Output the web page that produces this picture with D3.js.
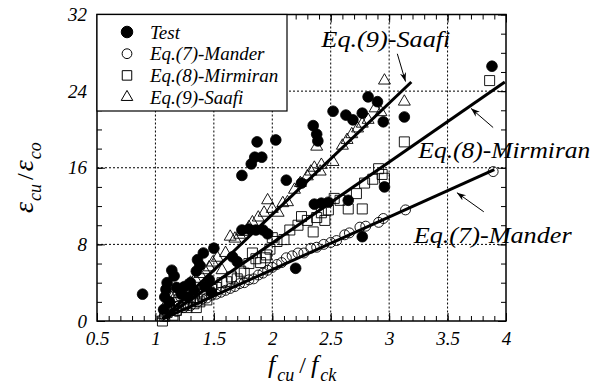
<!DOCTYPE html>
<html>
<head>
<meta charset="utf-8">
<script src="https://cdn.jsdelivr.net/npm/d3@7"></script>
<style>
  body { margin: 0; background: #fff; }
</style>
</head>
<body>
<div id="chart-area"></div>
<script>

// ---- data ----
var xTicks = [0.5, 1, 1.5, 2, 2.5, 3, 3.5, 4]
var yTicks = [0, 8, 16, 24, 32]

var testPts = [
  [0.89, 2.8], [1.07, 1.2], [1.08, 2.5], [1.09, 3.3], [1.10, 4.0], [1.14, 5.3], [1.16, 4.7],
  [1.12, 2.0], [1.18, 3.5], [1.22, 2.8], [1.25, 3.6], [1.28, 2.5], [1.30, 4.0], [1.33, 3.2],
  [1.35, 5.2], [1.36, 6.4], [1.38, 5.8], [1.41, 7.1], [1.42, 3.6], [1.46, 4.3], [1.50, 7.6],
  [1.48, 3.0], [1.66, 6.7], [1.70, 6.2], [1.74, 9.5], [1.80, 9.6], [1.86, 9.5], [1.92, 9.5],
  [1.96, 9.1], [1.74, 15.2], [1.82, 16.4], [1.85, 17.1], [1.91, 17.1], [1.87, 18.7], [2.03, 18.9],
  [2.12, 14.7], [2.20, 5.5], [2.25, 14.4], [2.35, 20.4], [2.38, 19.5], [2.39, 18.8], [2.36, 12.2],
  [2.42, 12.3], [2.48, 12.4], [2.52, 21.9], [2.63, 21.5], [2.65, 12.6], [2.69, 21.0], [2.77, 21.7],
  [2.77, 8.8], [2.82, 23.4], [2.90, 22.9], [2.95, 20.8], [2.96, 14.0], [3.13, 21.3], [3.88, 26.6]
]

var manderPts = [
  [1.08, 0.5], [1.10, 0.9], [1.12, 1.3], [1.15, 1.5], [1.18, 1.0], [1.20, 1.6], [1.24, 1.4],
  [1.27, 1.8], [1.30, 1.6], [1.33, 2.0], [1.36, 2.0], [1.40, 2.3], [1.44, 2.4], [1.48, 2.7],
  [1.52, 2.8], [1.56, 3.0], [1.60, 3.2], [1.64, 3.4], [1.68, 3.6], [1.72, 3.9], [1.76, 4.0],
  [1.80, 4.3], [1.84, 4.4], [1.88, 4.8], [1.92, 5.0], [1.96, 5.3], [2.00, 5.6], [2.04, 5.9],
  [2.08, 6.1], [2.12, 6.6], [2.17, 6.8], [2.22, 7.1], [2.27, 7.1], [2.33, 7.6], [2.38, 7.7],
  [2.44, 8.0], [2.50, 8.2], [2.55, 8.4], [2.62, 9.0], [2.66, 9.2], [2.75, 9.8], [2.80, 9.9],
  [2.91, 10.3], [2.95, 10.7], [3.14, 11.6], [3.89, 15.6]
]

var mirmiranPts = [
  [1.06, 0.0], [1.08, 0.5], [1.10, 0.9], [1.12, 1.4], [1.15, 0.6], [1.18, 1.1], [1.20, 2.2],
  [1.24, 1.6], [1.27, 1.4], [1.30, 2.4], [1.33, 1.8], [1.35, 1.4], [1.38, 2.0], [1.42, 2.8],
  [1.44, 2.2], [1.48, 3.3], [1.52, 3.5], [1.57, 4.0], [1.61, 4.1], [1.65, 4.6], [1.70, 4.4],
  [1.73, 5.2], [1.76, 5.0], [1.80, 6.0], [1.83, 7.1], [1.86, 6.5], [1.90, 6.1], [1.94, 6.6],
  [1.95, 6.9], [1.98, 7.5], [2.00, 8.7], [2.04, 8.3], [2.10, 8.5], [2.15, 9.5], [2.22, 10.0],
  [2.25, 10.9], [2.30, 10.5], [2.35, 9.3], [2.38, 10.8], [2.42, 11.3], [2.45, 10.5], [2.48, 11.6],
  [2.53, 12.8], [2.58, 12.6], [2.65, 11.7], [2.72, 13.3], [2.77, 11.7], [2.79, 14.4], [2.86, 14.8],
  [2.91, 15.9], [2.94, 15.3], [2.96, 14.9], [3.13, 18.7], [3.86, 25.1]
]

var saafiPts = [
  [1.07, 0.6], [1.08, 1.5], [1.11, 1.9], [1.14, 2.4], [1.18, 2.8], [1.22, 3.3], [1.26, 3.6],
  [1.30, 4.0], [1.34, 4.4], [1.38, 4.9], [1.42, 5.3], [1.46, 5.6], [1.49, 6.1], [1.53, 6.6],
  [1.57, 5.3], [1.60, 7.1], [1.64, 8.8], [1.68, 8.6], [1.72, 9.0], [1.75, 9.3], [1.80, 9.8],
  [1.83, 10.3], [1.88, 10.8], [1.93, 11.3], [1.96, 12.6], [2.00, 11.7], [2.05, 11.3], [2.09, 12.3],
  [2.13, 12.4], [2.19, 13.7], [2.24, 14.4], [2.30, 15.1], [2.33, 15.6], [2.36, 16.0], [2.41, 15.6],
  [2.42, 16.3], [2.38, 18.2], [2.52, 16.6], [2.60, 18.3], [2.64, 18.9], [2.68, 19.5], [2.73, 20.1],
  [2.77, 20.6], [2.82, 21.0], [2.88, 22.2], [2.93, 21.8], [2.96, 25.1], [3.13, 22.9]
]

// fitted equation lines (end points)
var manderLine = [[1.06, 0.2], [3.90, 15.8]]
var mirmiranLine = [[1.06, 0.2], [3.99, 24.95]]
var saafiLine = [[1.06, 0.2], [3.19, 24.95]]

var legendLabels = ["Test", "Eq.(7)-Mander", "Eq.(8)-Mirmiran", "Eq.(9)-Saafi"]

// annotations: [label, text x, text y, arrow tail, arrow tip, text width px] in data units
var notes = [
  ["Eq.(9)-Saafi", 2.42, 28.6, [3.07, 27.9], [3.14, 25.0], 129],
  ["Eq.(8)-Mirmiran", 3.25, 17.0, [3.89, 20.2], [3.70, 22.2], 172],
  ["Eq.(7)-Mander", 3.21, 8.1, [3.81, 11.4], [3.58, 13.4], 158]
]

var serif = "'Liberation Serif'"

// ---- layout ----
var margin = { left: 97, top: 14.5, right: 102, bottom: 69 }
var width = 608 - margin.left - margin.right,
    height = 390 - margin.top - margin.bottom

var svg = d3.select("#chart-area").append("svg")
    .attr("width", 608)
    .attr("height", 390)

svg.append("defs").append("marker")
    .attr("id", "arrow")
    .attr("viewBox", "0 0 10 10")
    .attr("refX", 10).attr("refY", 5)
    .attr("markerWidth", 9).attr("markerHeight", 9)
    .attr("markerUnits", "userSpaceOnUse")
    .attr("orient", "auto")
  .append("path")
    .attr("d", "M0,1.5 L10,5 L0,8.5 L3,5 Z")
    .attr("fill", "#000")

var g = svg.append("g")
    .attr("transform", "translate(" + margin.left + "," + margin.top + ")")

var x = d3.scaleLinear().domain([0.5, 4]).range([0, width])
var y = d3.scaleLinear().domain([0, 32]).range([height, 0])

// grid
g.selectAll(".vgrid")
  .data(xTicks.filter(function(d) { return d > 0.5 && d < 4 }))
  .enter().append("line")
    .attr("x1", function(d) { return x(d) }).attr("x2", function(d) { return x(d) })
    .attr("y1", 0).attr("y2", height)
    .attr("stroke", "#000").attr("stroke-width", 1).attr("stroke-dasharray", "2,2")

g.selectAll(".hgrid")
  .data(yTicks.filter(function(d) { return d > 0 && d < 32 }))
  .enter().append("line")
    .attr("x1", 0).attr("x2", width)
    .attr("y1", function(d) { return y(d) }).attr("y2", function(d) { return y(d) })
    .attr("stroke", "#000").attr("stroke-width", 1).attr("stroke-dasharray", "2,2")

// ticks, all pointing inward
var xMinor = d3.range(5, 41).map(function(d) { return d / 10 })
var yMinor = d3.range(0, 33, 2)

function styleAxis(sel) {
  sel.attr("font-family", null).attr("font-size", null)
  sel.select(".domain").remove()
  sel.selectAll("line").attr("stroke", "#000").attr("stroke-width", 1)
  sel.selectAll("text").attr("font-size", "19px")
}

g.append("g").attr("transform", "translate(0," + height + ")")
  .call(d3.axisBottom(x).tickValues(xTicks).tickSizeInner(-8).tickSizeOuter(0).tickPadding(11)
    .tickFormat(d3.format("")))
  .call(styleAxis)
g.append("g").attr("transform", "translate(0," + height + ")")
  .call(d3.axisBottom(x).tickValues(xMinor).tickSize(-5).tickFormat(""))
  .call(styleAxis)
g.append("g")
  .call(d3.axisTop(x).tickValues(xTicks).tickSize(-8).tickFormat(""))
  .call(styleAxis)
g.append("g")
  .call(d3.axisTop(x).tickValues(xMinor).tickSize(-5).tickFormat(""))
  .call(styleAxis)

g.append("g")
  .call(d3.axisLeft(y).tickValues(yTicks).tickSizeInner(-8).tickSizeOuter(0).tickPadding(10))
  .call(styleAxis)
g.append("g")
  .call(d3.axisLeft(y).tickValues(yMinor).tickSize(-5).tickFormat(""))
  .call(styleAxis)
g.append("g").attr("transform", "translate(" + width + ",0)")
  .call(d3.axisRight(y).tickValues(yTicks).tickSize(-8).tickFormat(""))
  .call(styleAxis)
g.append("g").attr("transform", "translate(" + width + ",0)")
  .call(d3.axisRight(y).tickValues(yMinor).tickSize(-5).tickFormat(""))
  .call(styleAxis)

// fitted lines
var line = d3.line()
  .x(function(d) { return x(d[0]) })
  .y(function(d) { return y(d[1]) })

;[manderLine, mirmiranLine, saafiLine].forEach(function(l) {
  g.append("path")
    .attr("d", line(l))
    .attr("fill", "none")
    .attr("stroke", "#000")
    .attr("stroke-width", 3)
})

// markers
function drawSet(pts, sym, filled) {
  g.append("g").selectAll("path")
    .data(pts)
    .enter().append("path")
      .attr("transform", function(d) { return "translate(" + x(d[0]) + "," + y(d[1]) + ")" })
      .attr("d", sym)
      .attr("fill", filled ? "#000" : "none")
      .attr("stroke", "#000")
      .attr("stroke-width", filled ? 0.8 : 0.9)
}

drawSet(testPts, d3.symbol().type(d3.symbolCircle).size(90), true)
drawSet(manderPts, d3.symbol().type(d3.symbolCircle).size(78), false)
drawSet(mirmiranPts, d3.symbol().type(d3.symbolSquare).size(100), false)
drawSet(saafiPts, d3.symbol().type(d3.symbolTriangle).size(62), false)

// frame
g.append("rect")
  .attr("width", width).attr("height", height)
  .attr("fill", "none").attr("stroke", "#000").attr("stroke-width", 1.5)

// legend
var legend = g.append("g")
legend.append("rect")
  .attr("x", 0).attr("y", 0)
  .attr("width", 190).attr("height", 96.5)
  .attr("fill", "#fff").attr("stroke", "#000").attr("stroke-width", 1.2)

var legendSyms = [
  [d3.symbol().type(d3.symbolCircle).size(105), true],
  [d3.symbol().type(d3.symbolCircle).size(75), false],
  [d3.symbol().type(d3.symbolSquare).size(90), false],
  [d3.symbol().type(d3.symbolTriangle).size(58), false]
]

legendLabels.forEach(function(lab, i) {
  var ry = 17.5 + i * 21.7
  legend.append("path")
    .attr("transform", "translate(30," + ry + ")")
    .attr("d", legendSyms[i][0])
    .attr("fill", legendSyms[i][1] ? "#000" : "none")
    .attr("stroke", "#000").attr("stroke-width", 1)
  legend.append("text")
    .attr("x", 53).attr("y", ry + 6.5)
    .attr("font-size", "19px")
    .text(lab)
})

// annotations with arrows
notes.forEach(function(n) {
  g.append("text")
    .attr("x", x(n[1])).attr("y", y(n[2]))
    .attr("font-size", "24px")
    .attr("textLength", n[5])
    .attr("lengthAdjust", "spacingAndGlyphs")
    .text(n[0])
  g.append("line")
    .attr("x1", x(n[3][0])).attr("y1", y(n[3][1]))
    .attr("x2", x(n[4][0])).attr("y2", y(n[4][1]))
    .attr("stroke", "#000").attr("stroke-width", 1)
    .attr("marker-end", "url(#arrow)")
})

// axis titles
var xt = svg.append("text")
  .attr("x", 268).attr("y", 373)
  .attr("font-size", "26px")
xt.append("tspan").text("f")
xt.append("tspan").attr("font-size", "18px").attr("dy", 8).attr("dx", 2).text("cu")
xt.append("tspan").attr("dy", -8).attr("dx", 5).style("font-style", "normal").attr("font-size", "24px").text("/")
xt.append("tspan").attr("dx", 5).text("f")
xt.append("tspan").attr("font-size", "18px").attr("dy", 8).attr("dx", 2).text("ck")

var yt = svg.append("text")
  .attr("transform", "translate(33,213) rotate(-90)")
  .attr("font-size", "28px")
yt.append("tspan").text("ε")
yt.append("tspan").attr("font-size", "18px").attr("dy", 8).attr("dx", 1).text("cu")
yt.append("tspan").attr("dy", -8).attr("dx", 4).style("font-style", "normal").attr("font-size", "24px").text("/")
yt.append("tspan").attr("dx", 2).text("ε")
yt.append("tspan").attr("font-size", "18px").attr("dy", 8).attr("dx", 1).text("co")

// all texts in an italic Times-like face
svg.selectAll("text")
  .style("font-family", serif)
  .style("font-style", "italic")
  .attr("fill", "#000")

</script>
</body>
</html>
